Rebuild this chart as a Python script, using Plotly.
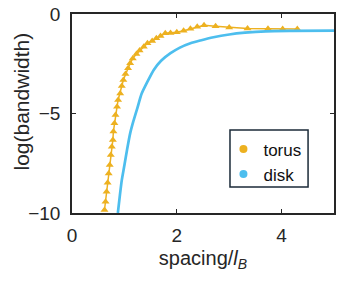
import plotly.graph_objects as go

torus_x = [0.62, 0.64, 0.66, 0.68, 0.70, 0.72, 0.74, 0.76, 0.78, 0.79, 0.81, 0.83, 0.86, 0.88,
           0.92, 0.95, 0.98, 1.02, 1.07, 1.11, 1.16, 1.23, 1.29, 1.37, 1.44, 1.53, 1.61, 1.69,
           1.78, 1.88, 2.00, 2.13, 2.26, 2.39, 2.52, 2.74, 3.00, 3.35, 3.74, 4.02, 4.30]
torus_y = [-9.85, -9.43, -8.93, -8.48, -8.01, -7.59, -7.09, -6.67, -6.33, -5.91, -5.49, -5.08,
           -4.66, -4.32, -3.99, -3.62, -3.32, -3.02, -2.73, -2.48, -2.23, -2.01, -1.84, -1.64,
           -1.47, -1.36, -1.22, -1.11, -0.97, -0.95, -0.92, -0.84, -0.74, -0.64, -0.57, -0.62,
           -0.68, -0.73, -0.74, -0.75, -0.75]

disk_x = [0.875, 0.91, 0.95, 1.0, 1.05, 1.11, 1.17, 1.25, 1.33, 1.45, 1.56, 1.70, 1.88, 2.05,
          2.26, 2.45, 2.7, 3.0, 3.3, 3.7, 4.2, 5.0]
disk_y = [-10, -9.2, -8.35, -7.6, -6.83, -6.0, -5.4, -4.7, -4.0, -3.35, -2.81, -2.35, -1.97,
          -1.7, -1.47, -1.33, -1.17, -1.03, -0.94, -0.87, -0.85, -0.84]

x_ticks = [0, 2, 4]
x_tick_labels = ["0", "2", "4"]
y_ticks = [0, -5, -10]
y_tick_labels = ["0", "\u22125", "\u221210"]

torus_color = "#EDB120"
disk_color = "#4DBEEE"
axis_color = "#262626"
font_family = "Liberation Sans, Arial, sans-serif"

fig = go.Figure()
fig.add_trace(go.Scatter(x=torus_x, y=torus_y, mode="lines+markers", showlegend=False,
                         line=dict(color=torus_color, width=1.5),
                         marker=dict(symbol="triangle-up", size=7, color=torus_color)))
fig.add_trace(go.Scatter(x=disk_x, y=disk_y, mode="lines", showlegend=False,
                         line=dict(color=disk_color, width=2.7, shape="spline", smoothing=0.6)))
fig.add_trace(go.Scatter(x=[None], y=[None], mode="markers", name="torus",
                         marker=dict(symbol="circle", size=8, color=torus_color)))
fig.add_trace(go.Scatter(x=[None], y=[None], mode="markers", name="disk",
                         marker=dict(symbol="circle", size=8, color=disk_color)))

fig.update_layout(
    width=349, height=287,
    margin=dict(l=72, r=15, t=14, b=74),
    paper_bgcolor="white", plot_bgcolor="white",
    font=dict(family=font_family, color=axis_color),
    legend=dict(x=0.578, y=0.41, xanchor="left", yanchor="top",
                borderwidth=0, bgcolor="rgba(0,0,0,0)",
                font=dict(size=17, color="#111111"),
                itemwidth=30, tracegroupgap=0),
    shapes=[dict(type="rect", xref="paper", yref="paper",
                 x0=0.603, x1=0.901, y0=0.131, y1=0.417,
                 line=dict(color="#1B2A38", width=1.5), fillcolor="rgba(0,0,0,0)",
                 layer="above")],
    annotations=[dict(text="log(bandwidth)", xref="paper", yref="paper",
                      x=-0.191, y=0.56, textangle=-90, showarrow=False,
                      xanchor="center", yanchor="middle",
                      font=dict(size=21, color=axis_color))],
)
fig.update_xaxes(range=[0, 5], tickvals=x_ticks, ticktext=x_tick_labels,
                 showline=True, linecolor=axis_color, linewidth=1.5, mirror="ticks",
                 ticks="inside", ticklen=4, tickcolor=axis_color, tickwidth=1.2,
                 showgrid=False, zeroline=False, automargin=False,
                 tickfont=dict(size=19, color=axis_color), ticklabelstandoff=4,
                 title=dict(text="spacing/<i>l</i><sub><i>B</i></sub>", font=dict(size=20),
                            standoff=6))
fig.update_yaxes(range=[-10, 0], tickvals=y_ticks, ticktext=y_tick_labels,
                 showline=True, linecolor=axis_color, linewidth=1.5, mirror="ticks",
                 ticks="inside", ticklen=4, tickcolor=axis_color, tickwidth=1.2,
                 showgrid=False, zeroline=False, automargin=False,
                 tickfont=dict(size=19, color=axis_color), ticklabelstandoff=6)

fig.write_html("out.html", config={"displayModeBar": False},
               post_script="document.body.style.margin='0';")
